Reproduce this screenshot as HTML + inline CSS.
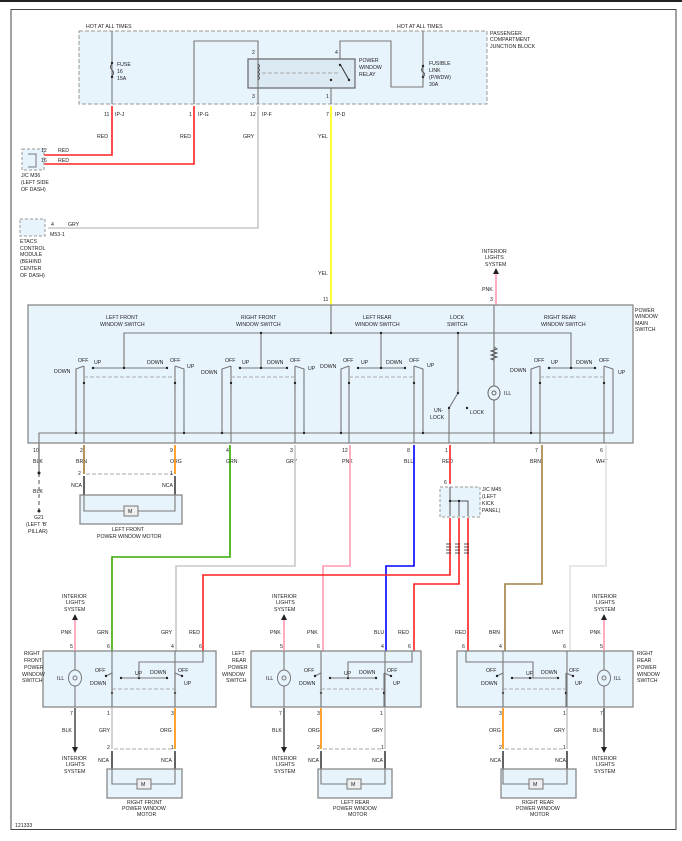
<!DOCTYPE html>
<html><head><meta charset="utf-8"><style>
html,body{margin:0;padding:0;background:#fff;width:682px;height:841px;overflow:hidden}
svg{display:block}
text{font-family:"Liberation Sans",sans-serif;font-size:5.2px;fill:#222}
.b{fill:#e8f4fc;stroke:#888;stroke-width:1.3}
.i{fill:none;stroke:#777;stroke-width:1.1}
.d{fill:none;stroke:#aaa;stroke-width:0.9;stroke-dasharray:4 2}
.w{fill:none;stroke-width:1.6}
</style></head><body>
<svg width="682" height="841" viewBox="0 0 682 841" xmlns="http://www.w3.org/2000/svg">
<rect x="0" y="0" width="682" height="2" fill="#222"/>
<rect x="11" y="9.5" width="665" height="820" fill="none" stroke="#444" stroke-width="1"/>

<!-- Junction block -->
<rect x="79" y="31" width="408" height="73" fill="#e8f4fc" stroke="#999" stroke-dasharray="4 2"/>
<text x="86" y="28">HOT AT ALL TIMES</text><text x="397" y="28">HOT AT ALL TIMES</text>
<text x="490" y="35">PASSENGER</text><text x="490" y="41">COMPARTMENT</text><text x="490" y="48">JUNCTION BLOCK</text>
<path class="i" d="M112 31V104M194 104V41H258V59M340 59V41H391V87H423V31"/>
<circle cx="112" cy="63" r="1.2" fill="#222"/><circle cx="112" cy="77" r="1.2" fill="#222"/>
<path d="M112 64q-3 3 0 6q3 3 0 6" fill="none" stroke="#555"/>
<text x="117" y="66">FUSE</text><text x="117" y="73">16</text><text x="117" y="80">15A</text>
<rect x="248" y="59" width="107" height="29" fill="#dbe9f3" stroke="#666" stroke-width="1.2"/>
<path d="M258 59V88M258 88V104M331 88V104" class="i"/>
<path d="M258 64q3 2 0 4q3 2 0 4q3 2 0 4q3 2 0 4" fill="none" stroke="#555"/>
<line x1="262" y1="73" x2="340" y2="73" class="d"/>
<line x1="340" y1="64" x2="349" y2="80" stroke="#333"/>
<circle cx="340" cy="65" r="1.2" fill="#222"/><circle cx="349" cy="80" r="1.2" fill="#222"/><circle cx="331" cy="80" r="1.2" fill="#222"/>
<text x="252" y="54">2</text><text x="335" y="54">4</text><text x="252" y="98">3</text><text x="326" y="98">1</text>
<text x="359" y="62">POWER</text><text x="359" y="69">WINDOW</text><text x="359" y="76">RELAY</text>
<circle cx="423" cy="66" r="1.2" fill="#222"/><circle cx="423" cy="77" r="1.2" fill="#222"/>
<path d="M423 67q-3 3 0 5q3 2 0 5" fill="none" stroke="#555"/>
<text x="429" y="65">FUSIBLE</text><text x="429" y="72">LINK</text><text x="429" y="79">(P/WDW)</text><text x="429" y="86">30A</text>
<text x="104" y="116">11</text><text x="115" y="116">IP-J</text>
<text x="189" y="116">1</text><text x="198" y="116">IP-G</text>
<text x="250" y="116">12</text><text x="262" y="116">IP-F</text>
<text x="326" y="116">7</text><text x="335" y="116">IP-D</text>

<!-- top wires -->
<path class="w" stroke="#ff2020" d="M112 106V155H38M194 106V164H38"/>
<path class="w" stroke="#c8c8c8" d="M258 106V228H48"/>
<path class="w" stroke="#ffff00" d="M331 106V305"/>
<text x="97" y="138">RED</text><text x="180" y="138">RED</text><text x="243" y="138">GRY</text><text x="318" y="138">YEL</text><text x="318" y="275">YEL</text>
<rect x="22" y="149" width="22" height="21" fill="#e8f4fc" stroke="#999" stroke-dasharray="3 2"/>
<path d="M28 154H36V167H28" fill="none" stroke="#777"/>
<text x="41" y="152">12</text><text x="58" y="152">RED</text><text x="41" y="162">16</text><text x="58" y="162">RED</text>
<text x="21" y="177">J/C M36</text><text x="21" y="184">(LEFT SIDE</text><text x="21" y="191">OF DASH)</text>
<rect x="20" y="219" width="25" height="17" fill="#e8f4fc" stroke="#999" stroke-dasharray="3 2"/>
<text x="51" y="226">4</text><text x="68" y="226">GRY</text><text x="50" y="236">M53-1</text>
<text x="20" y="243">ETACS</text><text x="20" y="250">CONTROL</text><text x="20" y="256">MODULE</text><text x="20" y="263">(BEHIND</text><text x="20" y="270">CENTER</text><text x="20" y="277">OF DASH)</text>
<text x="482" y="253">INTERIOR</text><text x="485" y="259">LIGHTS</text><text x="485" y="266">SYSTEM</text>
<path d="M496 268l-3 6h6z" fill="#222"/>
<path class="w" stroke="#ff9ab0" d="M496 274V305"/>
<text x="482" y="291">PNK</text><text x="490" y="301">3</text><text x="323" y="301">11</text>

<!-- Main switch -->
<rect class="b" x="28" y="305" width="605" height="138"/>
<text x="635" y="312">POWER</text><text x="635" y="318">WINDOW</text><text x="635" y="325">MAIN</text><text x="635" y="331">SWITCH</text>
<text x="106" y="319">LEFT FRONT</text><text x="100" y="326">WINDOW SWITCH</text>
<text x="241" y="319">RIGHT FRONT</text><text x="236" y="326">WINDOW SWITCH</text>
<text x="363" y="319">LEFT REAR</text><text x="355" y="326">WINDOW SWITCH</text>
<text x="450" y="319">LOCK</text><text x="447" y="326">SWITCH</text>
<text x="544" y="319">RIGHT REAR</text><text x="541" y="326">WINDOW SWITCH</text>
<path class="i" d="M124 368V333H571V368M261 333V368M381 333V368M331 305V333M458 333V393L449 408V443M494 305V443M39 443V433H613V369"/>
<path d="M494 347l3 2-6 2 6 2-6 2 6 2-6 2 3 1" fill="none" stroke="#555"/>
<ellipse cx="494" cy="393" rx="6" ry="7" fill="#e8f4fc" stroke="#666"/><circle cx="494" cy="393" r="2" fill="none" stroke="#666"/>
<text x="504" y="395">ILL</text>
<circle cx="458" cy="333" r="1.2" fill="#222"/><circle cx="458" cy="393" r="1.2" fill="#222"/><circle cx="449" cy="408" r="1.2" fill="#222"/><circle cx="467" cy="408" r="1.2" fill="#222"/>
<text x="434" y="412">UN-</text><text x="430" y="419">LOCK</text><text x="470" y="414">LOCK</text>

<!-- LF -->
<path class="i" d="M76 433V369L84 366M84 366V443M93 368H167M175 366V443M175 366L184 369V433"/>
<line class="d" x1="84" y1="377" x2="175" y2="377"/>
<g fill="#222"><circle cx="76" cy="433" r="1.2"/><circle cx="184" cy="433" r="1.2"/><circle cx="84" cy="383" r="1.2"/><circle cx="175" cy="383" r="1.2"/><circle cx="93" cy="368" r="1.2"/><circle cx="167" cy="368" r="1.2"/><circle cx="124" cy="368" r="1.2"/></g>
<text x="54" y="373">DOWN</text><text x="78" y="362">OFF</text><text x="94" y="364">UP</text><text x="147" y="364">DOWN</text><text x="170" y="362">OFF</text><text x="187" y="368">UP</text>
<!-- RF -->
<path class="i" d="M222 433V369L231 366M231 366V443M240 368H287M295 366V443M295 366L304 369V433"/>
<line class="d" x1="231" y1="377" x2="295" y2="377"/>
<g fill="#222"><circle cx="222" cy="433" r="1.2"/><circle cx="304" cy="433" r="1.2"/><circle cx="231" cy="383" r="1.2"/><circle cx="295" cy="383" r="1.2"/><circle cx="240" cy="368" r="1.2"/><circle cx="287" cy="368" r="1.2"/><circle cx="261" cy="368" r="1.2"/></g>
<text x="201" y="374">DOWN</text><text x="225" y="362">OFF</text><text x="242" y="364">UP</text><text x="267" y="364">DOWN</text><text x="290" y="362">OFF</text><text x="308" y="370">UP</text>
<!-- LR -->
<path class="i" d="M341 433V369L349 366M349 366V443M358 368H405M414 366V443M414 366L423 369V433"/>
<line class="d" x1="349" y1="377" x2="414" y2="377"/>
<g fill="#222"><circle cx="341" cy="433" r="1.2"/><circle cx="423" cy="433" r="1.2"/><circle cx="349" cy="383" r="1.2"/><circle cx="414" cy="383" r="1.2"/><circle cx="358" cy="368" r="1.2"/><circle cx="405" cy="368" r="1.2"/><circle cx="381" cy="368" r="1.2"/></g>
<text x="320" y="368">DOWN</text><text x="343" y="362">OFF</text><text x="361" y="364">UP</text><text x="386" y="364">DOWN</text><text x="409" y="362">OFF</text><text x="427" y="367">UP</text>
<!-- RR -->
<path class="i" d="M531 433V369L540 366M540 366V443M549 368H595M604 366V443M604 366L613 369"/>
<line class="d" x1="540" y1="377" x2="604" y2="377"/>
<g fill="#222"><circle cx="531" cy="433" r="1.2"/><circle cx="540" cy="383" r="1.2"/><circle cx="604" cy="383" r="1.2"/><circle cx="549" cy="368" r="1.2"/><circle cx="595" cy="368" r="1.2"/><circle cx="571" cy="368" r="1.2"/></g>
<text x="510" y="372">DOWN</text><text x="534" y="362">OFF</text><text x="551" y="364">UP</text><text x="576" y="364">DOWN</text><text x="599" y="362">OFF</text><text x="618" y="374">UP</text>
<g fill="#222"><circle cx="331" cy="333" r="1.2"/><circle cx="381" cy="333" r="1.2"/><circle cx="261" cy="333" r="1.2"/></g>

<!-- main switch bottom pins -->
<g>
<text x="33" y="452">10</text><text x="80" y="452">2</text><text x="170" y="452">9</text><text x="226" y="452">4</text><text x="290" y="452">3</text><text x="342" y="452">12</text><text x="407" y="452">8</text><text x="445" y="452">1</text><text x="535" y="452">7</text><text x="600" y="452">6</text>
<text x="33" y="463">BLK</text><text x="76" y="463">BRN</text><text x="170" y="463">ORG</text><text x="226" y="463">GRN</text><text x="286" y="463">GRY</text><text x="342" y="463">PNK</text><text x="404" y="463">BLU</text><text x="442" y="463">RED</text><text x="530" y="463">BRN</text><text x="596" y="463">WHT</text>
</g>
<path stroke="#888" stroke-width="1.5" d="M39 443V473" fill="none"/>
<path stroke="#888" stroke-width="1.5" stroke-dasharray="4 3" d="M39 473V511" fill="none"/>
<circle cx="39" cy="473" r="1.5" fill="#222"/><circle cx="39" cy="511" r="1.5" fill="#222"/>
<text x="33" y="493">BLK</text><text x="34" y="519">G21</text><text x="26" y="526">(LEFT 'B'</text><text x="28" y="533">PILLAR)</text>
<path class="w" stroke="#a07a30" d="M84 445V474"/><path class="w" stroke="#ff8c00" d="M175 445V474"/>
<line class="d" x1="86" y1="474" x2="173" y2="474"/>
<text x="78" y="475">2</text><text x="170" y="475">1</text><text x="71" y="487">NCA</text><text x="162" y="487">NCA</text>
<path d="M84 476V495M175 476V495" stroke="#222" stroke-width="1.4"/>
<rect class="b" x="80" y="495" width="102" height="29"/>
<path class="i" d="M84 495V511H175V495"/><rect x="124" y="506" width="14" height="10" fill="#eee" stroke="#777"/><text x="128" y="513">M</text>
<text x="112" y="531">LEFT FRONT</text><text x="97" y="538">POWER WINDOW MOTOR</text>

<!-- lower wires -->
<path class="w" stroke="#33aa00" d="M230 445V557H112V651"/>
<path class="w" stroke="#c8c8c8" d="M295 445V566H176V651"/>
<path class="w" stroke="#ff9ab0" d="M350 445V566H323V651"/>
<path class="w" stroke="#0000ff" d="M414 445V566H386V651"/>
<path class="w" stroke="#ff2020" d="M450 445V484M450 518V575H203V651M459 518V584H414V651M468 518V651"/>
<path class="w" stroke="#a08040" d="M542 445V584H505V651"/>
<path class="w" stroke="#e0e0e0" d="M606 445V566H570V651"/>
<rect x="440" y="487" width="40" height="30" fill="#e8f4fc" stroke="#999" stroke-dasharray="3 2"/>
<path d="M450 487V516M450 501H459V516M459 501H468V516" stroke="#555" fill="none"/>
<circle cx="450" cy="501" r="1.2" fill="#222"/><circle cx="459" cy="501" r="1.2" fill="#222"/>
<text x="444" y="484">6</text><text x="482" y="491">J/C M45</text><text x="482" y="498">(LEFT</text><text x="482" y="505">KICK</text><text x="482" y="512">PANEL)</text>
<g stroke="#222" stroke-width="0.8"><path d="M446 544h5M446 547h5M446 550h5M446 553h5M455 544h5M455 547h5M455 550h5M455 553h5M464 544h5M464 547h5M464 550h5M464 553h5"/></g>

<!-- bottom switches -->
<rect class="b" x="43" y="651" width="173" height="56"/>
<rect class="b" x="251" y="651" width="170" height="56"/>
<rect class="b" x="457" y="651" width="176" height="56"/>
<g id="sw">
<path class="i" d="M106 676L112 673V707M121 678H167M175 673V707M175 673L182 676"/>
<line class="d" x1="112" y1="689" x2="175" y2="689"/>
<g fill="#222"><circle cx="112" cy="693" r="1.2"/><circle cx="175" cy="693" r="1.2"/><circle cx="106" cy="676" r="1.2"/><circle cx="182" cy="676" r="1.2"/><circle cx="121" cy="678" r="1.2"/><circle cx="167" cy="678" r="1.2"/><circle cx="139" cy="678" r="1.2"/></g>
<text x="95" y="672">OFF</text><text x="135" y="675">UP</text><text x="150" y="674">DOWN</text><text x="178" y="672">OFF</text><text x="90" y="685">DOWN</text><text x="184" y="685">UP</text>
</g>
<use href="#sw" x="209"/><use href="#sw" x="391"/>
<path class="i" d="M112 651V707M175 651V707M203 651V662H139V678M75 651V707"/>
<path class="i" d="M321 651V707M385 651V707M412 651V662H348V678M284 651V707"/>
<path class="i" d="M503 651V707M567 651V707M466 651V662H533V678M604 651V707"/>
<g fill="#e8f4fc" stroke="#777"><ellipse cx="75" cy="678" rx="6.5" ry="8"/><ellipse cx="284" cy="678" rx="6.5" ry="8"/><ellipse cx="604" cy="678" rx="6.5" ry="8"/></g>
<g fill="none" stroke="#777"><circle cx="75" cy="678" r="2"/><circle cx="284" cy="678" r="2"/><circle cx="604" cy="678" r="2"/></g>
<text x="57" y="680">ILL</text><text x="266" y="680">ILL</text><text x="614" y="680">ILL</text>
<text x="24" y="655">RIGHT</text><text x="24" y="662">FRONT</text><text x="24" y="669">POWER</text><text x="22" y="676">WINDOW</text><text x="22" y="682">SWITCH</text>
<text x="232" y="655">LEFT</text><text x="232" y="662">REAR</text><text x="228" y="669">POWER</text><text x="222" y="676">WINDOW</text><text x="226" y="682">SWITCH</text>
<text x="637" y="655">RIGHT</text><text x="637" y="662">REAR</text><text x="637" y="669">POWER</text><text x="637" y="676">WINDOW</text><text x="637" y="682">SWITCH</text>

<g>
<text x="62" y="598">INTERIOR</text><text x="66" y="604">LIGHTS</text><text x="64" y="611">SYSTEM</text>
<text x="272" y="598">INTERIOR</text><text x="276" y="604">LIGHTS</text><text x="274" y="611">SYSTEM</text>
<text x="592" y="598">INTERIOR</text><text x="596" y="604">LIGHTS</text><text x="594" y="611">SYSTEM</text>
</g>
<g fill="#222"><path d="M75 614l-3 6h6z"/><path d="M284 614l-3 6h6z"/><path d="M604 614l-3 6h6z"/></g>
<path class="w" stroke="#ff9ab0" d="M75 620V651M284 620V651M604 620V651"/>
<text x="61" y="634">PNK</text><text x="97" y="634">GRN</text><text x="161" y="634">GRY</text><text x="189" y="634">RED</text>
<text x="270" y="634">PNK</text><text x="307" y="634">PNK</text><text x="374" y="634">BLU</text><text x="398" y="634">RED</text>
<text x="455" y="634">RED</text><text x="489" y="634">BRN</text><text x="552" y="634">WHT</text><text x="590" y="634">PNK</text>
<text x="70" y="648">5</text><text x="107" y="648">6</text><text x="171" y="648">4</text><text x="199" y="648">6</text>
<text x="280" y="648">5</text><text x="317" y="648">6</text><text x="381" y="648">4</text><text x="408" y="648">6</text>
<text x="462" y="648">6</text><text x="499" y="648">4</text><text x="563" y="648">6</text><text x="600" y="648">5</text>

<path stroke="#555" stroke-width="1.6" d="M75 708V747M284 708V747M604 708V747"/>
<g fill="#222"><path d="M75 753l-3-6h6z"/><path d="M284 753l-3-6h6z"/><path d="M604 753l-3-6h6z"/></g>
<path class="w" stroke="#c8c8c8" d="M112 708V749M385 708V749M567 708V749"/>
<path class="w" stroke="#ff8c00" d="M175 708V749M321 708V749M503 708V749"/>
<line class="d" x1="114" y1="749" x2="173" y2="749"/><line class="d" x1="323" y1="749" x2="383" y2="749"/><line class="d" x1="505" y1="749" x2="565" y2="749"/>
<text x="70" y="715">7</text><text x="107" y="715">1</text><text x="171" y="715">3</text>
<text x="279" y="715">7</text><text x="317" y="715">3</text><text x="380" y="715">1</text>
<text x="499" y="715">3</text><text x="563" y="715">1</text><text x="600" y="715">7</text>
<text x="62" y="732">BLK</text><text x="99" y="732">GRY</text><text x="160" y="732">ORG</text>
<text x="272" y="732">BLK</text><text x="308" y="732">ORG</text><text x="372" y="732">GRY</text>
<text x="489" y="732">ORG</text><text x="554" y="732">GRY</text><text x="593" y="732">BLK</text>
<text x="107" y="749">2</text><text x="171" y="749">1</text><text x="317" y="749">2</text><text x="381" y="749">1</text><text x="499" y="749">2</text><text x="563" y="749">1</text>
<text x="98" y="762">NCA</text><text x="161" y="762">NCA</text><text x="308" y="762">NCA</text><text x="372" y="762">NCA</text><text x="490" y="762">NCA</text><text x="555" y="762">NCA</text>
<g>
<text x="62" y="760">INTERIOR</text><text x="66" y="766">LIGHTS</text><text x="64" y="773">SYSTEM</text>
<text x="272" y="760">INTERIOR</text><text x="276" y="766">LIGHTS</text><text x="274" y="773">SYSTEM</text>
<text x="592" y="760">INTERIOR</text><text x="596" y="766">LIGHTS</text><text x="594" y="773">SYSTEM</text>
</g>
<path d="M112 751V769M175 751V769M321 751V769M385 751V769M503 751V769M567 751V769" stroke="#222" stroke-width="1.4"/>
<rect class="b" x="107" y="769" width="75" height="29"/>
<rect class="b" x="318" y="769" width="74" height="29"/>
<rect class="b" x="501" y="769" width="75" height="29"/>
<path class="i" d="M112 769V784H175V769M321 769V784H385V769M503 769V784H567V769"/>
<g fill="#eee" stroke="#777"><rect x="137" y="779" width="14" height="10"/><rect x="347" y="779" width="14" height="10"/><rect x="529" y="779" width="14" height="10"/></g>
<text x="141" y="786">M</text><text x="351" y="786">M</text><text x="533" y="786">M</text>
<text x="127" y="804">RIGHT FRONT</text><text x="122" y="810">POWER WINDOW</text><text x="137" y="816">MOTOR</text>
<text x="341" y="804">LEFT REAR</text><text x="333" y="810">POWER WINDOW</text><text x="348" y="816">MOTOR</text>
<text x="522" y="804">RIGHT REAR</text><text x="516" y="810">POWER WINDOW</text><text x="530" y="816">MOTOR</text>
<text x="15" y="827">121333</text>
</svg>
</body></html>
